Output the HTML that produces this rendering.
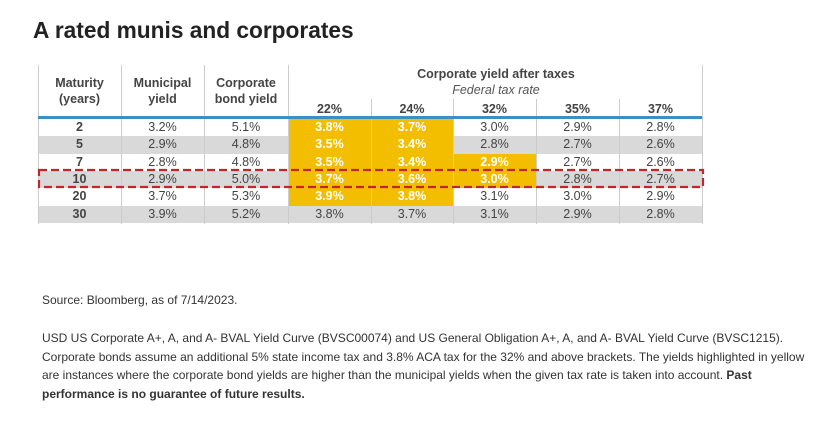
<!DOCTYPE html>
<html><head><meta charset="utf-8"><style>
body{margin:0;width:820px;height:422px;background:#fff;font-family:"Liberation Sans",Arial,sans-serif;color:#333;position:relative;overflow:hidden}
.abs{position:absolute}
h1{position:absolute;left:33px;top:17px;margin:0;font-size:22.7px;font-weight:bold;color:#222}
.hd{position:absolute;text-align:center;font-weight:bold;font-size:12.5px;color:#444;line-height:16px}
.vl{position:absolute;width:1px;background:#ccc}
.row{position:absolute;left:38px;width:664px;height:17.5px}
.cell{position:absolute;top:0;height:17.5px;line-height:17.5px;text-align:center;font-size:12.5px;color:#444}
.y{background:#f3bd00;color:#fff;font-weight:bold}
.note{position:absolute;left:42px;font-size:12px;color:#333;line-height:18.5px;width:770px}
</style></head><body>
<h1>A rated munis and corporates</h1>
<div id="tbl"></div>
<div class="abs" style="left:38px;top:116px;width:664px;height:3px;background:#3b8fc4"></div>
<svg class="abs" style="left:36px;top:168px" width="670" height="22"><rect x="3" y="2" width="664" height="17" fill="none" stroke="#c0262a" stroke-width="2.2" stroke-dasharray="8,4"/></svg>
<div class="note" style="top:291px">Source: Bloomberg, as of 7/14/2023.</div>
<div class="note" style="top:329px">USD US Corporate A+, A, and A- BVAL Yield Curve (BVSC00074) and US General Obligation A+, A, and A- BVAL Yield Curve (BVSC1215). Corporate bonds assume an additional 5% state income tax and 3.8% ACA tax for the 32% and above brackets. The yields highlighted in yellow are instances where the corporate bond yields are higher than the municipal yields when the given tax rate is taken into account. <b>Past performance is no guarantee of future results.</b></div>
<script>
const maturities=["2","5","7","10","20","30"];
const muni=["3.2%","2.9%","2.8%","2.9%","3.7%","3.9%"];
const corp=["5.1%","4.8%","4.8%","5.0%","5.3%","5.2%"];
const taxRates=["22%","24%","32%","35%","37%"];
const after=[
["3.8%","3.7%","3.0%","2.9%","2.8%"],
["3.5%","3.4%","2.8%","2.7%","2.6%"],
["3.5%","3.4%","2.9%","2.7%","2.6%"],
["3.7%","3.6%","3.0%","2.8%","2.7%"],
["3.9%","3.8%","3.1%","3.0%","2.9%"],
["3.8%","3.7%","3.1%","2.9%","2.8%"]];
const hl=[[1,1,0,0,0],[1,1,0,0,0],[1,1,1,0,0],[1,1,1,0,0],[1,1,0,0,0],[0,0,0,0,0]];
const gray=[0,1,0,1,0,1];
const colX=[38,121,204,288,371,453,536,619,702];
const top0=119,rh=17.3;
const T=document.getElementById('tbl');
function add(el){T.appendChild(el);return el;}
const heads=[["Maturity<br>(years)",0],["Municipal<br>yield",1],["Corporate<br>bond yield",2]];
heads.forEach(h=>{const d=document.createElement('div');d.className='hd';


d.style.left=colX[h[1]]+'px';d.style.width=(colX[h[1]+1]-colX[h[1]])+'px';d.style.top='75px';d.innerHTML=h[0];add(d);});
const g=document.createElement('div');g.className='hd';


g.style.left='371px';g.style.width='250px';g.style.top='66px';
g.innerHTML='Corporate yield after taxes<br><span style="font-weight:normal;font-style:italic;color:#555">Federal tax rate</span>';add(g);
taxRates.forEach((t,i)=>{const d=document.createElement('div');d.className='hd';


d.style.left=colX[i+3]+'px';d.style.width=(colX[i+4]-colX[i+3])+'px';d.style.top='101px';d.textContent=t;add(d);});
maturities.forEach((m,r)=>{
 const row=document.createElement('div');row.className='row';
 
 
 row.style.top=(top0+r*rh)+'px';if(gray[r])row.style.background='#d9d9d9';
 const vals=[m,muni[r],corp[r]].concat(after[r]);
 vals.forEach((v,c)=>{const d=document.createElement('div');d.className='cell';
  
  
  d.style.left=(colX[c]-38)+'px';d.style.width=(colX[c+1]-colX[c])+'px';d.textContent=v;
  if(c==0)d.style.fontWeight='bold';
  if(c>=3&&hl[r][c-3])d.classList.add('y');
  row.appendChild(d);});
 add(row);});
colX.forEach((x,i)=>{const l=document.createElement('div');l.className='vl';
 
 
 const t=(i>=4&&i<=7)?99:65;l.style.left=x+'px';l.style.top=t+'px';l.style.height=(224-t)+'px';add(l);});
</script>
</body></html>
